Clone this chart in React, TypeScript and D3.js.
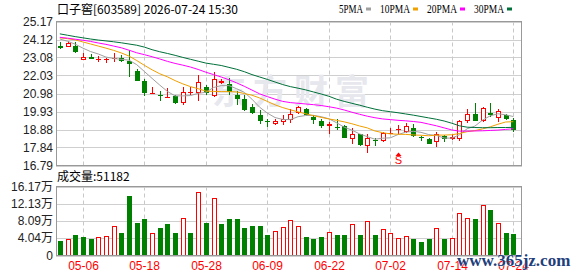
import React, { useEffect } from 'react';
import * as d3 from 'd3';

const dates = [
  '04-28','04-29','04-30','05-06','05-07','05-08','05-11','05-12','05-13','05-14',
  '05-15','05-18','05-19','05-20','05-21','05-22','05-25','05-26','05-27','05-28',
  '05-29','06-01','06-02','06-03','06-04','06-05','06-08','06-09','06-10','06-11',
  '06-12','06-15','06-16','06-17','06-18','06-22','06-23','06-24','06-25','06-26',
  '06-29','06-30','07-01','07-02','07-03','07-06','07-07','07-08','07-09','07-10',
  '07-13','07-14','07-15','07-16','07-17','07-20','07-21','07-22','07-23','07-24',
];

const open = [
  23.75,23.67,23.75,22.95,23.09,22.97,22.98,23.00,23.05,22.85,
  22.30,21.72,20.98,20.92,20.77,20.84,20.44,21.02,21.00,21.35,
  20.82,21.60,21.53,20.88,20.65,20.18,19.71,19.38,19.19,19.30,
  19.42,19.83,20.06,19.59,19.36,19.07,19.01,19.07,18.35,18.60,
  17.92,18.30,18.19,18.68,18.88,18.74,18.97,18.43,18.31,18.15,
  18.52,18.35,18.35,19.40,19.81,19.40,19.87,19.58,19.70,19.46,
];
const high = [
  24.00,24.05,23.97,23.34,23.27,23.16,23.06,23.36,23.24,23.52,
  22.40,21.80,21.37,21.14,21.28,20.92,21.35,21.35,22.05,21.47,
  22.23,21.82,21.88,21.12,20.88,20.36,20.01,19.48,19.48,19.73,
  20.05,20.24,20.12,19.71,19.48,19.30,19.52,19.13,18.97,18.64,
  18.64,18.41,18.74,18.95,19.17,19.29,19.23,18.53,18.37,18.74,
  18.58,18.64,19.46,20.05,20.40,20.22,20.40,20.05,19.81,19.58,
];
const low = [
  23.59,23.67,23.32,22.95,22.97,22.83,22.77,22.81,22.81,21.95,
  21.68,20.82,20.93,20.55,20.73,20.36,20.30,20.88,20.53,20.88,
  20.76,21.53,20.88,20.30,19.95,19.79,19.19,19.01,19.13,19.13,
  19.26,19.77,19.65,19.19,18.95,18.64,18.88,18.37,18.06,17.94,
  17.51,17.94,18.18,18.60,18.60,18.68,18.43,18.21,18.02,17.86,
  18.15,18.29,18.21,19.29,19.36,19.35,19.64,19.35,19.42,18.76,
];
const close = [
  23.65,23.91,23.38,23.11,22.99,23.00,23.01,23.03,22.85,22.71,
  21.72,21.00,21.01,20.88,20.80,20.40,21.06,21.04,21.64,21.00,
  21.82,21.70,21.06,20.65,20.01,19.83,19.36,19.34,19.36,19.48,
  19.77,20.18,19.71,19.42,19.07,19.19,18.99,18.41,18.60,17.96,
  18.37,18.27,18.70,18.70,18.90,19.09,18.49,18.41,18.06,18.64,
  18.35,18.44,19.40,19.81,19.40,20.11,19.70,19.99,19.52,18.88,
];
const volume = [
  33500,37500,46900,44500,37500,43800,46100,69500,53900,140600,
  77300,84400,53100,65600,72700,53900,88300,51600,149200,77300,
  135200,72700,84400,84400,65600,70300,68000,49200,57800,67200,
  83600,69500,42200,39800,44500,55500,49200,49200,72700,46900,
  81300,46900,62500,53100,41400,46100,39800,30500,39800,64800,
  39800,41400,100000,88300,86700,118700,105500,76600,53900,51182,
];

const ma5 = [
  24.15,24.02,23.85,23.62,23.42,23.28,23.10,23.02,22.97,22.92,
  22.66,22.26,21.86,21.47,21.10,20.84,20.84,20.86,20.99,21.05,
  21.33,21.44,21.44,21.26,21.05,20.65,20.18,19.84,19.58,19.47,
  19.46,19.63,19.70,19.71,19.63,19.51,19.28,19.02,18.85,18.63,
  18.47,18.32,18.38,18.40,18.59,18.73,18.78,18.72,18.59,18.54,
  18.39,18.38,18.58,18.93,19.08,19.43,19.68,19.80,19.74,19.64,
];
const ma10 = [
  24.22,24.17,24.10,23.98,23.86,23.74,23.62,23.49,23.34,23.16,
  22.90,22.62,22.36,22.13,21.95,21.73,21.54,21.38,21.26,21.12,
  21.10,21.09,21.09,21.07,20.98,20.88,20.72,20.52,20.32,20.16,
  20.03,19.91,19.80,19.69,19.59,19.50,19.42,19.33,19.22,19.09,
  18.98,18.80,18.70,18.63,18.61,18.60,18.57,18.55,18.52,18.56,
  18.56,18.58,18.65,18.76,18.82,18.92,19.04,19.19,19.32,19.34,
];
const ma20 = [
  24.25,24.20,24.14,24.08,24.01,23.92,23.84,23.74,23.64,23.50,
  23.35,23.24,23.12,22.99,22.85,22.73,22.63,22.52,22.38,22.22,
  22.08,21.94,21.78,21.60,21.40,21.18,20.96,20.80,20.65,20.52,
  20.45,20.41,20.37,20.33,20.28,20.21,20.13,20.02,19.89,19.77,
  19.66,19.57,19.50,19.46,19.42,19.39,19.35,19.30,19.20,19.10,
  18.98,18.86,18.79,18.79,18.80,18.81,18.83,18.85,18.89,18.93,
];
const ma30 = [
  24.45,24.37,24.29,24.22,24.15,24.09,24.04,23.99,23.93,23.86,
  23.79,23.68,23.53,23.41,23.31,23.20,23.08,22.97,22.86,22.75,
  22.68,22.61,22.50,22.39,22.25,22.08,21.94,21.80,21.65,21.50,
  21.38,21.29,21.19,21.07,20.95,20.82,20.65,20.52,20.41,20.30,
  20.18,20.07,19.98,19.92,19.86,19.79,19.72,19.64,19.56,19.48,
  19.38,19.25,19.10,19.02,19.00,18.99,18.99,19.00,19.00,19.01,
];

const priceTicks = [16.79, 17.84, 18.88, 19.93, 20.98, 22.03, 23.08, 24.12, 25.17];
const volTicks = [0, 40425, 80850, 121275, 161700];
const volTickLabels = ['0', '4.04万', '8.09万', '12.13万', '16.17万'];
const xTickLabels = ['05-06', '05-18', '05-28', '06-09', '06-22', '07-02', '07-14', '07-24'];
const maNames = ['5PMA', '10PMA', '20PMA', '30PMA'];
const maSeries = [ma5, ma10, ma20, ma30];
const maColors = ['#a0a0a0', '#f0a000', '#ff00ff', '#00703a'];
const title = '口子窖[603589] 2026-07-24 15:30';
const volTitle = '成交量:51182';
const signalDate = '07-03';
const signalText = 'S';

const RED = '#ff0000';
const GREEN = '#008000';

export default function App() {
  useEffect(() => {
    document.body.style.margin = '0';
  }, []);

  const W = 578, H = 276;
  const L = 56, R = 522;
  const pTop = 21.5, pBot = 165.5;
  const vTop = 186.5, vBot = 255.5;

  const x = d3.scaleBand<string>().domain(dates).range([L, 517.1]);
  const cx = (i: number) => Math.round((x(dates[i]) as number) + x.bandwidth() / 2) + 0.5;
  const y = d3.scaleLinear().domain([priceTicks[0], priceTicks[priceTicks.length - 1]]).range([pBot, pTop]);
  const vy = d3.scaleLinear().domain([0, volTicks[volTicks.length - 1]]).range([vBot, vTop]);

  const sansFont = '"Liberation Sans", Arial, "Noto Sans CJK SC", sans-serif';
  const cjkFont = '"Noto Sans CJK SC", "Liberation Sans", sans-serif';

  const tickIdx = xTickLabels.map((t) => dates.indexOf(t));

  const candles = dates.map((d, i) => {
    const c = cx(i);
    const yO = y(open[i]), yC = y(close[i]), yH = y(high[i]), yL = y(low[i]);
    const up = close[i] >= open[i];
    const top = Math.min(yO, yC), bot = Math.max(yO, yC);
    const col = up ? RED : GREEN;
    const doji = bot - top < 1.5;
    const rt = Math.round(top), rb = Math.round(bot);
    const rh = Math.round(yH), rl = Math.round(yL);
    if (doji) {
      return (
        <g key={d}>
          <line x1={c} x2={c} y1={rh} y2={rl} stroke={col} />
          <line x1={c - 2.5} x2={c + 2.5} y1={rt + 0.5} y2={rt + 0.5} stroke={col} />
        </g>
      );
    }
    if (up) {
      return (
        <g key={d}>
          <line x1={c} x2={c} y1={rh} y2={rt} stroke={col} />
          <line x1={c} x2={c} y1={rb} y2={rl} stroke={col} />
          <rect x={c - 2} y={rt + 0.5} width={4} height={rb - rt - 1} fill="#fff" stroke={col} />
        </g>
      );
    }
    return (
      <g key={d}>
        <line x1={c} x2={c} y1={rh} y2={rl} stroke={col} />
        <rect x={c - 2.5} y={rt} width={5} height={Math.max(1, rb - rt)} fill={col} />
      </g>
    );
  });

  const volBars = dates.map((d, i) => {
    const c = cx(i);
    const up = i === 0 ? close[i] >= open[i] : close[i] >= close[i - 1];
    const t = Math.round(vy(volume[i]));
    const b = Math.round(vBot);
    if (up) {
      return <rect key={d} x={c - 2} y={t + 0.5} width={4} height={b - t - 1} fill="#fff" stroke={RED} />;
    }
    return <rect key={d} x={c - 2.5} y={t} width={5} height={b - t} fill={GREEN} />;
  });

  const lineGen = (arr: number[]) =>
    d3.line<number>().x((_, i) => (x(dates[i]) as number) + x.bandwidth() / 2).y((v) => y(v))(arr) || '';

  // legend layout
  let lx = 339;
  const legend = maNames.map((n, k) => {
    const tw = n.length * 6;
    const item = (
      <g key={n}>
        <text x={lx} y={13} fontSize={12} fontFamily='"Liberation Serif", serif' textLength={tw} lengthAdjust="spacingAndGlyphs" fill="#000">{n}</text>
        <rect x={lx + tw + 3} y={7.5} width={5} height={3} fill={maColors[k]} />
      </g>
    );
    lx += tw + 17;
    return item;
  });

  const sIdx = dates.indexOf(signalDate);
  const sx = cx(sIdx);

  return (
    <svg width={W} height={H} style={{ position: 'absolute', left: 0, top: 0, background: '#fff' }} xmlns="http://www.w3.org/2000/svg">
      <rect x={0} y={0} width={W} height={H} fill="#fff" />
      {/* title */}
      <text x={57} y={13.5} fontSize={12} fontFamily={cjkFont} fill="#000">{title}</text>
      {legend}

      {/* price panel grid */}
      {priceTicks.map((t) => (
        <line key={'pg' + t} x1={L} x2={R} y1={Math.round(y(t)) + 0.5} y2={Math.round(y(t)) + 0.5} stroke="#cfcfcf" />
      ))}
      {tickIdx.map((i) => (
        <line key={'pv' + i} x1={cx(i)} x2={cx(i)} y1={pTop} y2={pBot} stroke="#c8c8c8" strokeDasharray="4,3" />
      ))}
      {/* watermark */}
      <text x={212} y={104} fontSize={34} fontWeight="bold" fontFamily={cjkFont} fill="#e7e7ee" letterSpacing={7}>东方财富</text>

      {candles}
      {maSeries.map((s, k) => (
        <path key={'ma' + k} d={lineGen(s)} fill="none" stroke={maColors[k]} strokeWidth={1} />
      ))}

      {/* signal marker */}
      <path d={`M${sx},${y(priceTicks[0]) - 13} l-3,3.5 h6 z`} fill={RED} />
      <text x={sx} y={164} fontSize={11} fontFamily={sansFont} fill={RED} textAnchor="middle">{signalText}</text>

      <rect x={L + 0.5} y={pTop} width={R - L - 1} height={pBot - pTop} fill="none" stroke="#999" />

      {priceTicks.map((t) => (
        <text key={'pl' + t} x={53} y={y(t)} dy="0.35em" fontSize={12} fontFamily={sansFont} fill="#222" textAnchor="end">
          {t.toFixed(2)}
        </text>
      ))}

      {/* volume panel */}
      <text x={57} y={181} fontSize={12} fontFamily={cjkFont} fill="#000">{volTitle}</text>
      {volTicks.map((t) => (
        <line key={'vg' + t} x1={L} x2={R} y1={Math.round(vy(t)) + 0.5} y2={Math.round(vy(t)) + 0.5} stroke="#cfcfcf" />
      ))}
      {tickIdx.map((i) => (
        <line key={'vv' + i} x1={cx(i)} x2={cx(i)} y1={vTop} y2={vBot} stroke="#c8c8c8" strokeDasharray="4,3" />
      ))}
      {volBars}
      <rect x={L + 0.5} y={vTop} width={R - L - 1} height={vBot - vTop} fill="none" stroke="#999" />
      {volTicks.map((t, k) => (
        <text key={'vl' + t} x={53} y={vy(t)} dy="0.35em" fontSize={12} fontFamily={sansFont} fill="#222" textAnchor="end">
          {volTickLabels[k]}
        </text>
      ))}

      {tickIdx.map((i, k) => (
        <text key={'xl' + i} x={cx(i)} y={270} fontSize={12} fontFamily={sansFont} fill={RED} textAnchor="middle">
          {xTickLabels[k]}
        </text>
      ))}

      {/* site watermark */}
      <text x={457} y={265.5} fontSize={17} fontWeight="bold" fontFamily='"Liberation Serif", serif' fill="#1f3f7c" stroke="#fff" strokeWidth={0.6} paintOrder="stroke">www.365jz.com</text>
    </svg>
  );
}
